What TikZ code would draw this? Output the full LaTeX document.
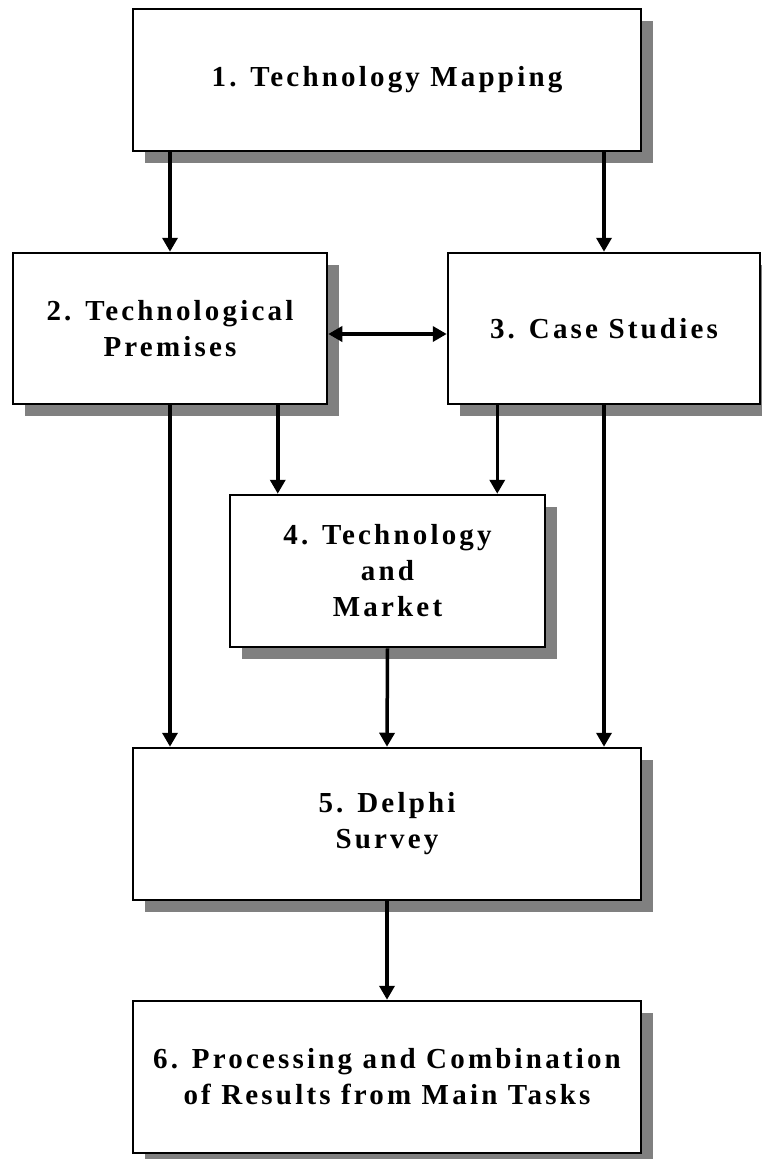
\documentclass[tikz,border=0pt]{standalone}
\usepackage{fontspec}
\setmainfont{Liberation Serif}[LetterSpace=11]
\usetikzlibrary{arrows.meta,shadows,calc}
\definecolor{shade}{HTML}{808080}
\begin{document}
\begin{tikzpicture}[x=1pt,y=-1pt,
  stage/.style={draw, line width=2.5pt, fill=white, align=center, inner sep=0pt,
    font=\fontsize{29}{36}\selectfont\bfseries,
    drop shadow={shadow xshift=12pt, shadow yshift=-12pt, fill=shade, opacity=1}},
  flow/.style={line width=3.5pt, -{Triangle[length=14pt,width=15pt]}},
  both/.style={line width=3.5pt, {Triangle[length=14pt,width=15pt]}-{Triangle[length=14pt,width=15pt]}}]
\useasboundingbox (0,0) rectangle (761,1159);

% process stages
\node[stage, minimum width=508pt, minimum height=142pt] (b1) at (387,80) {1. Technology Mapping};
\node[stage, minimum width=314pt, minimum height=151pt] (b2) at (170,328.5) {2. Technological\\Premises};
\node[stage, minimum width=312pt, minimum height=151pt] (b3) at (604,328.5) {3. Case Studies};
\node[stage, minimum width=315pt, minimum height=152pt] (b4) at (387.5,571) {4. Technology\\and\\Market};
\node[stage, minimum width=508pt, minimum height=152pt] (b5) at (387,824) {5. Delphi\\Survey};
\node[stage, minimum width=508pt, minimum height=152pt] (b6) at (387,1077) {6. Processing and Combination\\of Results from Main Tasks};

% connectors
\coordinate (b4l) at ($(b4.north west)+(49,0)$);
\coordinate (b4r) at ($(b4.north east)+(-49,0)$);
\draw[flow] (b1.south -| b2) -- (b2.north);
\draw[flow] (b1.south -| b3) -- (b3.north);
\draw[both] ($(b2.east)+(0,5.5)$) -- ($(b3.west)+(0,5.5)$);
\draw[flow] (b2.south -| b4l) -- (b4l);
\draw[flow] (b3.south -| b4r) -- (b4r);
\draw[flow] (b2.south) -- (b5.north -| b2);
\draw[flow] (b3.south) -- (b5.north -| b3);
\draw[flow] (b4.south) -- (b5.north);
\draw[flow] (b5.south) -- (b6.north);
\end{tikzpicture}
\end{document}
